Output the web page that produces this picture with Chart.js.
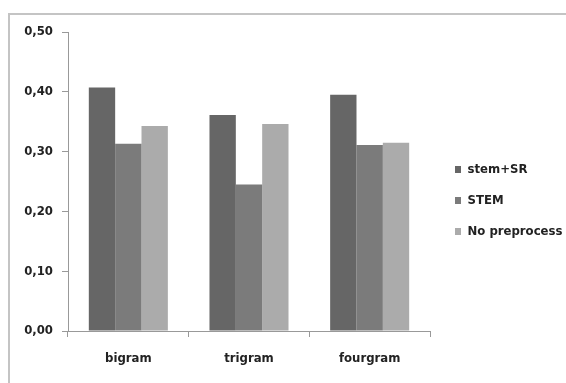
<!DOCTYPE html>
<html>
<head>
<meta charset="utf-8">
<script src="https://cdn.jsdelivr.net/npm/chart.js@4.4.0/dist/chart.umd.min.js"></script>
<style>
html, body { margin: 0; padding: 0; background: #fff; }
#wrap { position: relative; width: 566px; height: 383px; }
#frame { position: absolute; left: 8px; top: 13px; right: 0; bottom: 0;
         border-top: 2px solid #c4c4c4; border-left: 2px solid #c4c4c4; }
canvas { position: absolute; left: 0; top: 0; }
</style>
</head>
<body>
<div id="wrap">
  <div id="frame"></div>
  <canvas id="chart1" width="566" height="383"></canvas>
</div>
<script>
var categories = ['bigram', 'trigram', 'fourgram'];
var seriesNames = ['stem+SR', 'STEM', 'No preprocess'];
var stemSR = [0.407, 0.361, 0.395];
var stem = [0.313, 0.245, 0.311];
var noPre = [0.343, 0.346, 0.315];
var yTicks = [0, 0.1, 0.2, 0.3, 0.4, 0.5];

var colors = ['#666666', '#7b7b7b', '#ababab'];
var fontFamily = '"Liberation Sans Narrow", "DejaVu Sans Condensed", sans-serif';

// legend sits right of the plot, nudged like the original
var legendFix = {
    id: 'legendFix',
    beforeInit: function(chart) {
        var origFit = chart.legend.fit;
        chart.legend.fit = function() {
            origFit.bind(chart.legend)();
            this.width = 136;
        };
    },
    afterLayout: function(chart) {
        chart.legend.top -= 7;
        chart.legend.bottom -= 7;
        chart.legend.left += 7;
        chart.legend.right += 7;
    }
};

var ctx = document.getElementById('chart1').getContext('2d');
var myChart = new Chart(ctx, {
    type: 'bar',
    data: {
        labels: categories,
        datasets: [
            { label: seriesNames[0], data: stemSR, backgroundColor: colors[0] },
            { label: seriesNames[1], data: stem, backgroundColor: colors[1] },
            { label: seriesNames[2], data: noPre, backgroundColor: colors[2] }
        ]
    },
    options: {
        responsive: false,
        animation: false,
        events: [],
        layout: { padding: { top: 32, left: 0, right: 0, bottom: 0 } },
        datasets: { bar: { categoryPercentage: 0.655, barPercentage: 1.0 } },
        plugins: {
            tooltip: { enabled: false },
            legend: {
                position: 'right',
                labels: {
                    boxWidth: 6,
                    boxHeight: 7,
                    padding: 18,
                    color: '#222',
                    font: { family: fontFamily, size: 13, weight: 'bold' }
                }
            }
        },
        scales: {
            x: {
                grid: { display: true, drawOnChartArea: false, offset: true, tickLength: 6, color: '#999' },
                border: { color: '#999', width: 1 },
                ticks: { color: '#222', padding: 14, font: { family: fontFamily, size: 13, weight: 'bold' } },
                afterFit: function(scale) { scale.height = 52; }
            },
            y: {
                min: 0,
                max: 0.5,
                afterBuildTicks: function(scale) {
                    scale.ticks = yTicks.map(function(v) { return { value: v }; });
                },
                grid: { display: true, drawOnChartArea: false, tickLength: 6, color: '#999' },
                border: { color: '#999', width: 1 },
                ticks: {
                    color: '#222',
                    padding: 9,
                    font: { family: fontFamily, size: 13, weight: 'bold' },
                    callback: function(v) { return v.toFixed(2).replace('.', ','); }
                },
                afterFit: function(scale) { scale.width = 68; }
            }
        }
    },
    plugins: [legendFix]
});
</script>
</body>
</html>
